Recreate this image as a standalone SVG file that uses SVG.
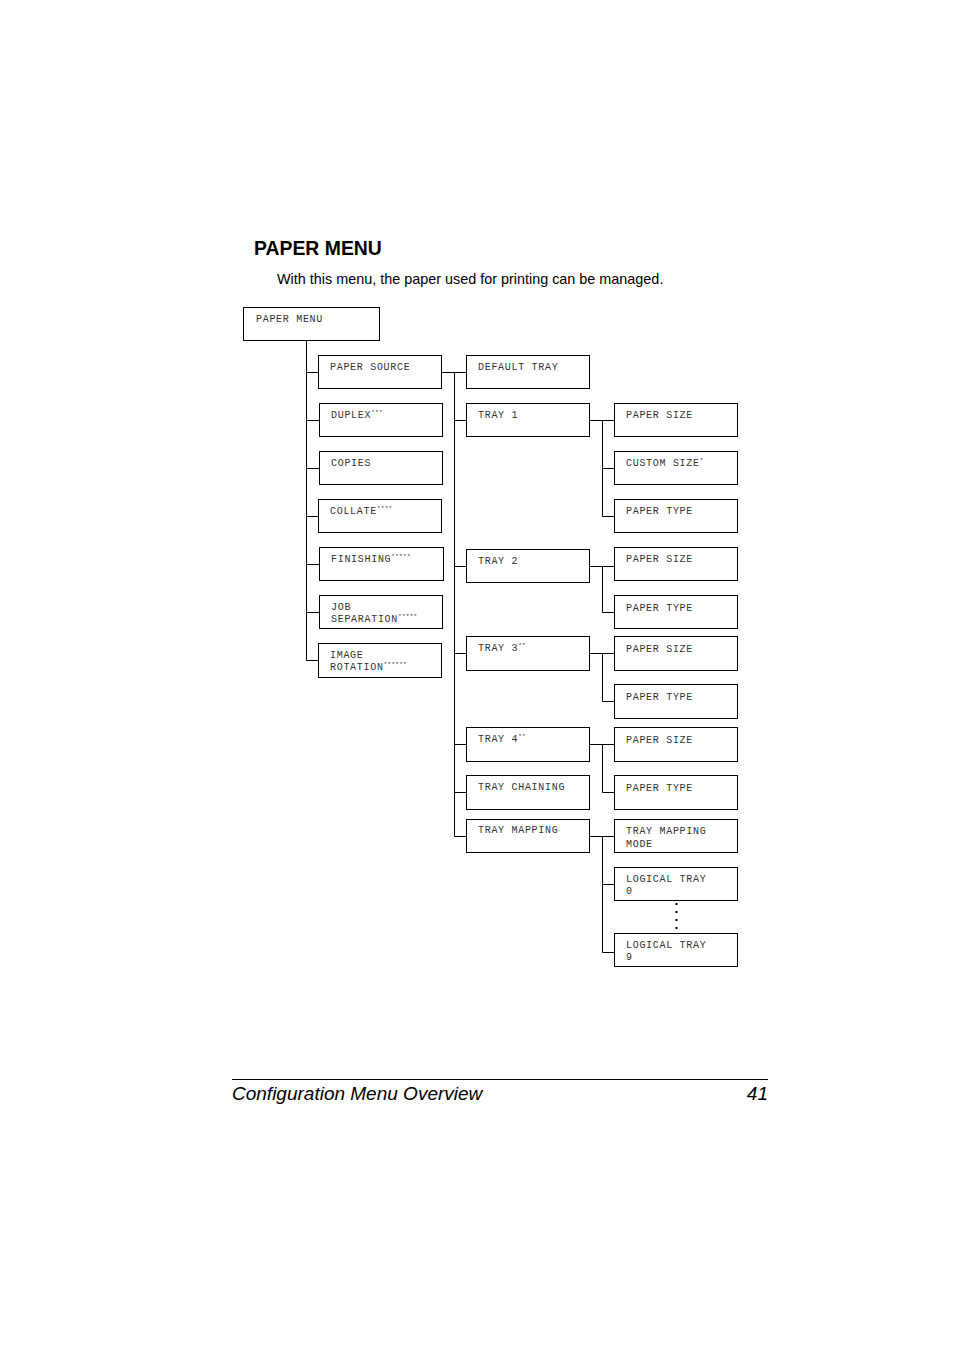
<svg xmlns="http://www.w3.org/2000/svg" width="954" height="1350" viewBox="0 0 954 1350">
<style>
.b{fill:#fff;stroke:#000;stroke-width:1}
.t{font-family:"Liberation Mono",monospace;font-size:10px;letter-spacing:0.7px;fill:#333}
.s{font-size:6px;letter-spacing:0.3px}
.c{fill:none;stroke:#000;stroke-width:1}
.h{font-family:"Liberation Sans",Arial,sans-serif;fill:#000}
</style>
<rect width="954" height="1350" fill="#fff"/>
<text class="h" x="254" y="255" font-size="19.4" font-weight="bold">PAPER MENU</text>
<text class="h" x="277" y="284" font-size="14.4">With this menu, the paper used for printing can be managed.</text>

<g id="connectors" class="c">
<path d="M306.5 340V660.5M306.5 372.5H318M306.5 420.5H319M306.5 468.5H319M306.5 516.5H318M306.5 564.5H319M306.5 612.5H319M306.5 660.5H318"/>
<path d="M441 372.5H466M454.5 372.5V836.5M454.5 420.5H466M454.5 566.5H466M454.5 653.5H466M454.5 744.5H466M454.5 792.5H466M454.5 836.5H466"/>
<path d="M589 420.5H614M602.5 420.5V516.5M602.5 468.5H614M602.5 516.5H614"/>
<path d="M589 566.5H614M602.5 566.5V612.5H614"/>
<path d="M589 653.5H614M602.5 653.5V701.5H614"/>
<path d="M589 744.5H614M602.5 744.5V792.5H614"/>
<path d="M589 836.5H614M602.5 836.5V952.5M602.5 884.5H614M602.5 952.5H614"/>
<path d="M676.5 903V932" stroke-width="2" stroke-dasharray="2,6"/>
</g>

<g id="paper-menu"><rect class="b" x="243.5" y="307.5" width="136" height="33"/><text class="t" x="256" y="322">PAPER MENU</text></g>

<g id="paper-source"><rect class="b" x="318.5" y="355.5" width="123" height="33"/><text class="t" x="330" y="370">PAPER SOURCE</text></g>
<g id="duplex"><rect class="b" x="319.5" y="403.5" width="123" height="33"/><text class="t" x="331" y="418">DUPLEX<tspan class="s" dy="-4">***</tspan></text></g>
<g id="copies"><rect class="b" x="319.5" y="451.5" width="123" height="33"/><text class="t" x="331" y="466">COPIES</text></g>
<g id="collate"><rect class="b" x="318.5" y="499.5" width="123" height="33"/><text class="t" x="330" y="514">COLLATE<tspan class="s" dy="-4">****</tspan></text></g>
<g id="finishing"><rect class="b" x="319.5" y="547.5" width="124" height="33"/><text class="t" x="331" y="562">FINISHING<tspan class="s" dy="-4">*****</tspan></text></g>
<g id="job-separation"><rect class="b" x="319.5" y="595.5" width="123" height="33"/><text class="t" x="331" y="610">JOB</text><text class="t" x="331" y="622">SEPARATION<tspan class="s" dy="-4">*****</tspan></text></g>
<g id="image-rotation"><rect class="b" x="318.5" y="643.5" width="123" height="34"/><text class="t" x="330" y="658">IMAGE</text><text class="t" x="330" y="670">ROTATION<tspan class="s" dy="-4">******</tspan></text></g>

<g id="default-tray"><rect class="b" x="466.5" y="355.5" width="123" height="33"/><text class="t" x="478" y="370">DEFAULT TRAY</text></g>
<g id="tray1"><rect class="b" x="466.5" y="403.5" width="123" height="33"/><text class="t" x="478" y="418">TRAY 1</text></g>
<g id="tray2"><rect class="b" x="466.5" y="549.5" width="123" height="33"/><text class="t" x="478" y="564">TRAY 2</text></g>
<g id="tray3"><rect class="b" x="466.5" y="636.5" width="123" height="34"/><text class="t" x="478" y="651">TRAY 3<tspan class="s" dy="-4">**</tspan></text></g>
<g id="tray4"><rect class="b" x="466.5" y="727.5" width="123" height="34"/><text class="t" x="478" y="742">TRAY 4<tspan class="s" dy="-4">**</tspan></text></g>
<g id="tray-chaining"><rect class="b" x="466.5" y="775.5" width="123" height="34"/><text class="t" x="478" y="790">TRAY CHAINING</text></g>
<g id="tray-mapping"><rect class="b" x="466.5" y="819.5" width="123" height="33"/><text class="t" x="478" y="833">TRAY MAPPING</text></g>

<g id="t1-paper-size"><rect class="b" x="614.5" y="403.5" width="123" height="33"/><text class="t" x="626" y="418">PAPER SIZE</text></g>
<g id="t1-custom-size"><rect class="b" x="614.5" y="451.5" width="123" height="33"/><text class="t" x="626" y="466">CUSTOM SIZE<tspan class="s" dy="-4">*</tspan></text></g>
<g id="t1-paper-type"><rect class="b" x="614.5" y="499.5" width="123" height="33"/><text class="t" x="626" y="514">PAPER TYPE</text></g>
<g id="t2-paper-size"><rect class="b" x="614.5" y="547.5" width="123" height="33"/><text class="t" x="626" y="562">PAPER SIZE</text></g>
<g id="t2-paper-type"><rect class="b" x="614.5" y="595.5" width="123" height="33"/><text class="t" x="626" y="611">PAPER TYPE</text></g>
<g id="t3-paper-size"><rect class="b" x="614.5" y="636.5" width="123" height="34"/><text class="t" x="626" y="652">PAPER SIZE</text></g>
<g id="t3-paper-type"><rect class="b" x="614.5" y="684.5" width="123" height="34"/><text class="t" x="626" y="700">PAPER TYPE</text></g>
<g id="t4-paper-size"><rect class="b" x="614.5" y="727.5" width="123" height="34"/><text class="t" x="626" y="743">PAPER SIZE</text></g>
<g id="t4-paper-type"><rect class="b" x="614.5" y="775.5" width="123" height="34"/><text class="t" x="626" y="791">PAPER TYPE</text></g>
<g id="tray-mapping-mode"><rect class="b" x="614.5" y="819.5" width="123" height="33"/><text class="t" x="626" y="834">TRAY MAPPING</text><text class="t" x="626" y="847">MODE</text></g>
<g id="logical-tray-0"><rect class="b" x="614.5" y="867.5" width="123" height="33"/><text class="t" x="626" y="882">LOGICAL TRAY</text><text class="t" x="626" y="894">0</text></g>
<g id="logical-tray-9"><rect class="b" x="614.5" y="933.5" width="123" height="33"/><text class="t" x="626" y="948">LOGICAL TRAY</text><text class="t" x="626" y="960">9</text></g>

<line x1="232" y1="1079.5" x2="768" y2="1079.5" stroke="#000" stroke-width="1"/>
<text class="h" x="232" y="1100" font-size="19" font-style="italic">Configuration Menu Overview</text>
<text class="h" x="768" y="1100" font-size="19" font-style="italic" text-anchor="end">41</text>
</svg>
